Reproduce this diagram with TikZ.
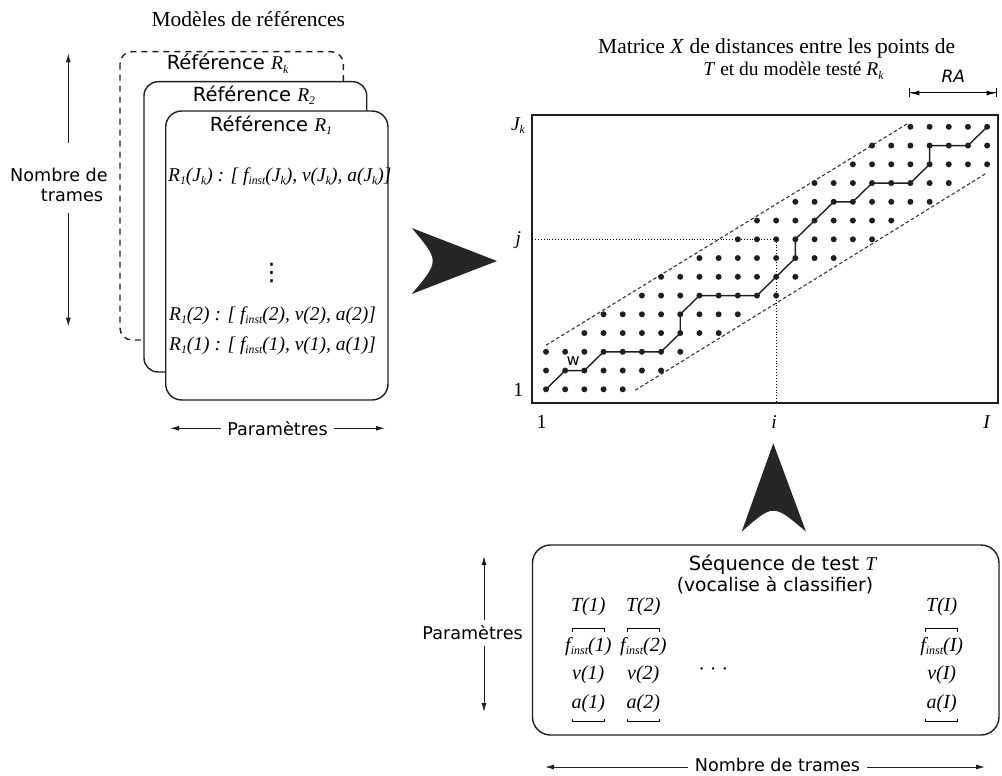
\documentclass[tikz,border=0pt]{standalone}
\usepackage{fontspec}
\setmainfont{Liberation Serif}
\newfontfamily\sansf{DejaVu Sans}
\usetikzlibrary{arrows.meta}
\newcommand\mysub[1]{\lower0.35ex\hbox{\scalebox{0.6}{#1}}}
\newcommand\fin{f\mysub{inst}}
\begin{document}
\begin{tikzpicture}[x=1pt,y=-1pt,
  lw/.style={line width=1.4pt,draw=black!88},
  arr/.style={line width=1pt,draw=black!88,-{Latex[length=9pt,width=5pt]}},
  dot/.style={circle,fill=black!88,inner sep=0pt,minimum size=6pt},
  sanslab/.style={font=\sansf\fontsize{17.6}{20}\selectfont,inner sep=0pt},
  reflab/.style={font=\sansf\fontsize{19.5}{22}\selectfont,inner sep=0pt},
  sertitle/.style={font=\fontsize{21.5}{24}\selectfont,inner sep=0pt},
  itl/.style={font=\fontsize{19.5}{22}\selectfont\itshape,inner sep=0pt},
  coltxt/.style={font=\fontsize{20}{22}\selectfont\itshape,inner sep=0pt},
  bigtip/.style={fill=black!85,draw=none},
  band/.style={line width=1.1pt,black!80,dash pattern=on 3.5pt off 2.5pt}]
\useasboundingbox (0,0) rectangle (1002,776);

% ---------- reference models ----------
\node[sertitle,anchor=base] (mtitle) at (248.3,26.7) {Modèles de références};
\draw[lw,dash pattern=on 6pt off 5pt,rounded corners=12pt] (120,51.7) rectangle (343.3,340);
\draw[lw,fill=white,rounded corners=14pt] (144,81.7) rectangle (366.7,372);
\draw[lw,fill=white,rounded corners=16pt] (165.7,111) rectangle (388,400);
\node[reflab,anchor=base] (rk) at (227.5,70) {Référence {\rmfamily\itshape R\mysub{k}}};
\node[reflab,anchor=base] (r2) at (254,101.7) {Référence {\rmfamily\itshape R\mysub{2}}};
\node[reflab,anchor=base] (r1) at (271,131.7) {Référence {\rmfamily\itshape R\mysub{1}}};
\node[itl,anchor=base west] (l1) at (168,181.7) {R\mysub{1}(J\mysub{k}) : [ \fin(J\mysub{k}), v(J\mysub{k}), a(J\mysub{k})]};
\node[font=\sansf\fontsize{24}{24}\selectfont,inner sep=0pt] (vd) at (271.7,273) {⋮};
\node[itl,anchor=base west] (l2) at (169,320) {R\mysub{1}(2) : [ \fin(2), v(2), a(2)]};
\node[itl,anchor=base west] (l3) at (169,350) {R\mysub{1}(1) : [ \fin(1), v(1), a(1)]};

% left vertical arrow
\node[sanslab,anchor=base] (nt1) at (59,181) {Nombre de};
\node[sanslab,anchor=base] (nt2) at (72,201) {trames};
\coordinate (ntTop) at (68.3,53.3);
\coordinate (ntBot) at (68.3,326.7);
\draw[arr] (68.3,143) -- (ntTop);
\draw[arr] (68.3,213) -- (ntBot);

% bottom-left horizontal arrow
\node[sanslab,inner sep=6pt] (par1) at (277.5,428.3) {Paramètres};
\coordinate (parL) at (170,428.3);
\coordinate (parR) at (385,428.3);
\draw[arr] (par1.west) -- (parL);
\draw[arr] (par1.east) -- (parR);

% big arrow to the matrix
\draw[bigtip] (497,261) -- (411.7,294) .. controls (439.7,261) .. (411.7,228) -- cycle;

% ---------- matrix ----------
\node[sertitle,anchor=base] (mx1) at (776.7,54) {Matrice \textit{X} de distances entre les points de};
\node[sertitle,anchor=base,font=\fontsize{19.5}{22}\selectfont] (mx2) at (793.5,76) {\textit{T} et du modèle testé \textit{R\mysub{k}}};
\coordinate (fTL) at (532,115);
\coordinate (fBR) at (998,403);
\draw[lw] (fTL) rectangle (fBR);

% RA
\coordinate (raL) at (909.3,93);
\coordinate (raR) at (996.7,93);
\draw[line width=1pt,{Bar[width=9pt]Latex[length=9pt,width=5pt]}-{Latex[length=9pt,width=5pt]Bar[width=9pt]}] (raL) -- (raR);
\node[font=\sansf\fontsize{17}{20}\selectfont\itshape,inner sep=0pt] (ra) at (953.3,76) {RA};

% tick labels
\node[itl] (lJk) at (518,126) {J\mysub{k}};
\node[itl] (lj) at (518.3,240) {j};
\node[font=\fontsize{20}{22}\selectfont,inner sep=0pt] (l1y) at (518.3,390) {1};
\node[font=\fontsize{20}{22}\selectfont,inner sep=0pt] (l1x) at (541.7,421.7) {1};
\node[itl] (li) at (774,421.7) {i};
\node[itl] (lI) at (986.7,422) {I};

\begin{scope}[shift={(546,389.3)},x=19.18pt,y=18.75pt]
  % band
  \draw[band] (0,2.35) -- (18.9,14.2);
  \draw[band] (4.65,-0.05) -- (23,11.55);
  % dots
  \foreach \j/\a/\b in {0/0/4,1/0/6,2/0/7,3/2/9,4/3/10,5/5/12,6/6/13,7/8/15,8/10/17,9/11/18,10/13/20,11/14/21,12/16/23,13/17/23,14/19/23}
    \foreach \i in {\a,...,\b}
      \node[dot] (d-\i-\j) at (\i,\j) {};
  \node[font=\sansf\fontsize{16}{16}\selectfont,inner sep=0pt] (w) at (1.42,1.5) {w};
\end{scope}
% dotted guides
\draw[line width=0.9pt,dotted] (532,239.3) -- (d-12-8.center) -- (d-12-8.center |- fBR);
% warping path
\draw[line width=1.4pt,black!88] (d-0-0.center) -- (d-1-1.center) -- (d-2-1.center) -- (d-3-2.center) -- (d-4-2.center) -- (d-5-2.center) -- (d-6-2.center) -- (d-7-3.center) -- (d-7-4.center) -- (d-8-5.center) -- (d-9-5.center) -- (d-10-5.center) -- (d-11-5.center) -- (d-12-6.center) -- (d-13-7.center) -- (d-13-8.center) -- (d-14-9.center) -- (d-15-10.center) -- (d-16-10.center) -- (d-17-11.center) -- (d-18-11.center) -- (d-19-11.center) -- (d-20-12.center) -- (d-20-13.center) -- (d-21-13.center) -- (d-22-13.center) -- (d-23-14.center);

% big arrow from test sequence
\draw[bigtip] (773.3,443.3) -- (806,531.7) .. controls (773.3,503.7) .. (741.7,531.7) -- cycle;

% ---------- test sequence ----------
\draw[lw,rounded corners=18pt] (532.5,545) rectangle (999,735);
\node[reflab,anchor=base] (seq) at (782.5,570) {Séquence de test {\rmfamily\itshape T}};
\node[font=\sansf\fontsize{18.7}{22}\selectfont,inner sep=0pt,anchor=base] (voc) at (775,591) {(vocalise à classifier)};
\foreach \n/\x/\k in {c1/588.3/1,c2/643.3/2,c3/941.7/I}{
  \node[coltxt] (\n T) at (\x,606.7) {T(\k)};
  \node[coltxt] (\n f) at (\x,646.7) {\fin(\k)};
  \node[coltxt] (\n v) at (\x,675) {v(\k)};
  \node[coltxt] (\n a) at (\x,703.3) {a(\k)};
  \draw[line width=1pt] (\x-16,631.5) -- (\x-16,628.3) -- (\x+16,628.3) -- (\x+16,631.5);
  \draw[line width=1pt] (\x-16,718.5) -- (\x-16,721.7) -- (\x+16,721.7) -- (\x+16,718.5);
}
\node[font=\fontsize{20}{22}\selectfont,inner sep=0pt] (dd) at (713.3,671.7) {· · ·};

% left vertical arrow (Paramètres)
\node[sanslab,inner sep=0pt,anchor=east] (par2) at (523,633) {Paramètres};
\coordinate (p2Top) at (484,556);
\coordinate (p2Bot) at (484,712);
\draw[arr] (484,620) -- (p2Top);
\draw[arr] (484,646) -- (p2Bot);

% bottom horizontal arrow
\node[sanslab,inner sep=0pt] (nbt) at (777.5,765) {Nombre de trames};
\coordinate (nbL) at (545,767);
\coordinate (nbR) at (985,767);
\draw[arr] ([xshift=-7pt]nbt.west |- nbL) -- (nbL);
\draw[arr] ([xshift=7pt]nbt.east |- nbR) -- (nbR);
\end{tikzpicture}
\end{document}
